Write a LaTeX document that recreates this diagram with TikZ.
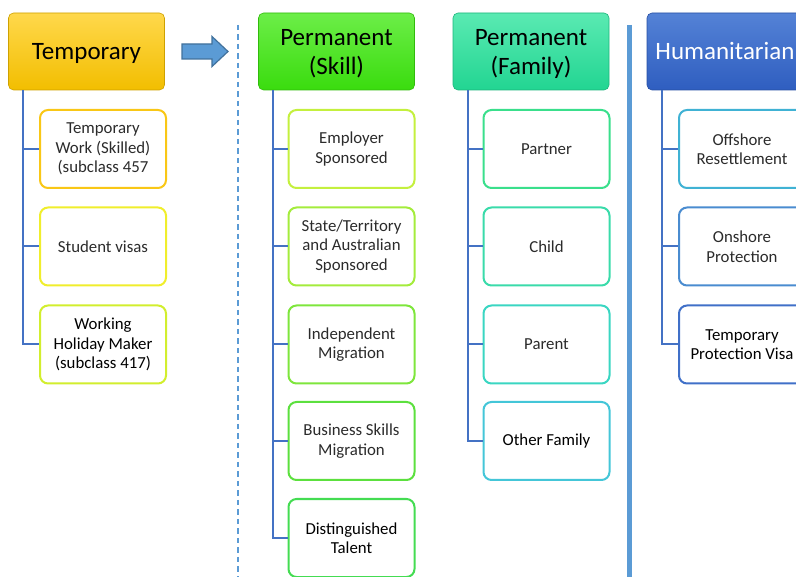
\documentclass[tikz,border=0pt]{standalone}
\usepackage{fontspec}
\setmainfont{Carlito}
\usetikzlibrary{calc}

% palette
\definecolor{linkblue}{HTML}{4472C4}
\definecolor{rulblue}{HTML}{5B9BD5}
\definecolor{arrowedge}{HTML}{41719C}
\definecolor{txt}{HTML}{2B2B2B}
% header fills (top / bottom)
\definecolor{tmpA}{HTML}{FFD84C}\definecolor{tmpB}{HTML}{F2BE00}
\definecolor{sklA}{HTML}{6CEE48}\definecolor{sklB}{HTML}{3ADC0E}
\definecolor{famA}{HTML}{5AEAB2}\definecolor{famB}{HTML}{22D592}
\definecolor{humA}{HTML}{5482D6}\definecolor{humB}{HTML}{2F5EC0}
% child outlines
\definecolor{cT1}{HTML}{F9C716}\definecolor{cT2}{HTML}{F0EE2C}\definecolor{cT3}{HTML}{D2EE2E}
\definecolor{cS1}{HTML}{C4F03E}\definecolor{cS2}{HTML}{A4EC3C}\definecolor{cS3}{HTML}{7EE63C}
\definecolor{cS4}{HTML}{5CE03E}\definecolor{cS5}{HTML}{44DC52}
\definecolor{cF1}{HTML}{3ADF8C}\definecolor{cF2}{HTML}{3ADBAA}\definecolor{cF3}{HTML}{3AD6C2}
\definecolor{cF4}{HTML}{44C6D8}
\definecolor{cH1}{HTML}{40B2D4}\definecolor{cH2}{HTML}{4A8CD0}\definecolor{cH3}{HTML}{4070C8}

% header caption, set a little below the optical centre
\newcommand\hdrcap[1]{\raisebox{-3pt}[16pt][5pt]{\begin{tabular}{@{}c@{}}#1\end{tabular}}}
\newcommand\hdrcapii[1]{\raisebox{-3pt}[\height][\depth]{\begin{tabular}{@{}c@{}}#1\end{tabular}}}

\tikzset{
  header/.style={rounded corners=5pt, minimum width=156pt, minimum height=77pt,
    inner sep=0pt, align=center, font=\fontsize{25}{29}\selectfont, text=black,
    draw=#1B!85!black, line width=0.6pt, top color=#1A, bottom color=#1B},
  child/.style={rounded corners=8pt, minimum width=126pt, minimum height=78pt,
    inner sep=0pt, align=center, fill=white, draw=#1, line width=2pt,
    font=\fontsize{16.8}{19.5}\selectfont, text=txt},
  link/.style={draw=linkblue, line width=2pt},
}

\begin{document}
\begin{tikzpicture}[x=1pt, y=-1pt]
\useasboundingbox (0,0) rectangle (796,577);
\clip (0,0) rectangle (796,577);

% column headers
\node[header=tmp] (tmp) at (86.5,51.5) {\hdrcap{Temporary}};
\node[header=skl] (skl) at (336.5,51.5) {\hdrcapii{Permanent\\(Skill)}};
\node[header=fam] (fam) at (531,51.5) {\hdrcapii{Permanent\\(Family)}};
\node[header=hum, text=white] (hum) at (725,51.5) {\hdrcap{Humanitarian}};

% temporary visas
\node[child=cT1] (t1) at (103,149) {Temporary\\Work (Skilled)\\(subclass 457};
\node[child=cT2] (t2) at (103,246.5) {Student visas};
\node[child=cT3, text=black] (t3) at (103,344.5) {Working\\Holiday Maker\\(subclass 417)};

% permanent skill stream
\node[child=cS1] (s1) at (351.5,149) {Employer\\Sponsored};
\node[child=cS2] (s2) at (351.5,246.5) {State/Territory\\and Australian\\Sponsored};
\node[child=cS3] (s3) at (351.5,344.5) {Independent\\Migration};
\node[child=cS4] (s4) at (351.5,441) {Business Skills\\Migration};
\node[child=cS5, text=black] (s5) at (351.5,538) {Distinguished\\Talent};

% permanent family stream
\node[child=cF1] (f1) at (546.5,149) {Partner};
\node[child=cF2] (f2) at (546.5,246.5) {Child};
\node[child=cF3] (f3) at (546.5,344.5) {Parent};
\node[child=cF4, text=black] (f4) at (546.5,441) {Other Family};

% humanitarian stream
\node[child=cH1] (h1) at (742,149) {Offshore\\Resettlement};
\node[child=cH2] (h2) at (742,246.5) {Onshore\\Protection};
\node[child=cH3, text=black] (h3) at (742,344.5) {Temporary\\Protection Visa};

% tree links from each header down its column
\foreach \h/\list in {tmp/{t1,t2,t3}, skl/{s1,s2,s3,s4,s5}, fam/{f1,f2,f3,f4}, hum/{h1,h2,h3}}{
  \foreach \c in \list {
    \draw[link] ([xshift=15pt]\h.south west) |- (\c.west);
  }
}

% separators
\coordinate (dtop) at (238,25);
\coordinate (dbot) at (238,577);
\draw[rulblue, line width=2pt, dash pattern=on 5.5pt off 4pt] (dtop) -- (dbot);
\coordinate (stop) at (629,25);
\coordinate (sbot) at (629,577);
\draw[rulblue, line width=5pt] (stop) -- (sbot);

% block arrow between temporary and permanent
\draw[fill=rulblue, draw=arrowedge, line width=1.2pt, line join=miter]
  (182,44) -- (212,44) -- (212,36.5) -- (228,51.5) -- (212,66.5) -- (212,59) -- (182,59) -- cycle;
\end{tikzpicture}
\end{document}
